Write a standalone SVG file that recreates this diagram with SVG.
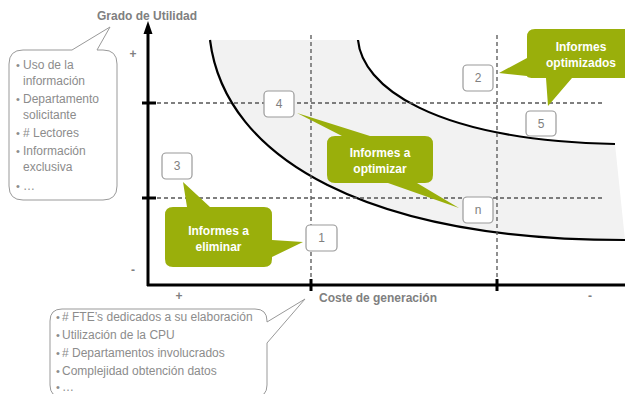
<svg xmlns="http://www.w3.org/2000/svg" width="625" height="394" viewBox="0 0 625 394">
<style>
.dash{stroke:#555;stroke-width:1.3;stroke-dasharray:4 3;fill:none}
.curve{stroke:#000;stroke-width:2.2;fill:none}
.axis{stroke:#000;stroke-width:3;fill:none}
.lbl{font-family:"Liberation Sans",Arial,sans-serif;font-size:12px;font-weight:bold;fill:#808080}
.bub{fill:#fff;stroke:#999;stroke-width:1}
.btxt{font-family:"Liberation Sans",Arial,sans-serif;font-size:12px;fill:#8c8c8c}
.bul{font-family:"Liberation Sans",Arial,sans-serif;font-size:11px;fill:#8c8c8c}
.num rect{fill:#fff;stroke:#9a9a9a;stroke-width:1.2}
.num text{font-family:"Liberation Sans",Arial,sans-serif;font-size:12px;fill:#808080;text-anchor:middle}
.call path{fill:#9aaf0b}
.call text{font-family:"Liberation Sans",Arial,sans-serif;font-size:12px;font-weight:bold;fill:#fff;text-anchor:middle}
</style>
<rect width="625" height="394" fill="#fff"/>
<g id="band">
<path d="M210,40 L358,40 C362,85 430,140 615,144 L625,240 C370,240 225,160 210,40 Z" fill="#f2f2f2"/>
<path class="curve" d="M210,40 C225,160 370,240 625,240"/>
<path class="curve" d="M358,40 C362,85 430,140 615,144"/>
</g>
<g id="connectors">
<line class="dash" x1="311" y1="35" x2="311" y2="284"/>
<line class="dash" x1="497" y1="35" x2="497" y2="284"/>
<line class="dash" x1="150" y1="103" x2="602" y2="103"/>
<line class="dash" x1="150" y1="198" x2="602" y2="198"/>
</g>
<g id="axes">
<line class="axis" x1="148" y1="286" x2="148" y2="30"/>
<polygon points="148,21 143.5,34 152.5,34" fill="#000"/>
<line class="axis" x1="147" y1="285" x2="625" y2="285"/>
<line x1="142" y1="103" x2="156" y2="103" stroke="#000" stroke-width="3"/>
<line x1="142" y1="198" x2="156" y2="198" stroke="#000" stroke-width="3"/>
<line x1="311" y1="279" x2="311" y2="291" stroke="#000" stroke-width="3"/>
<line x1="497" y1="279" x2="497" y2="291" stroke="#000" stroke-width="3"/>
<text class="lbl" x="97" y="20">Grado de Utilidad</text>
<text class="lbl" x="319" y="302">Coste de generación</text>
<text class="lbl" x="133" y="58" text-anchor="middle">+</text>
<text class="lbl" x="133" y="274" text-anchor="middle">-</text>
<text class="lbl" x="179" y="300" text-anchor="middle">+</text>
<text class="lbl" x="590" y="300" text-anchor="middle">-</text>
</g>
<g id="bubble-utilidad">
<path class="bub" d="M23,50 L72,50 L110,27 L97,50 L103,50 Q117,50 117,64 L117,186 Q117,200 103,200 L23,200 Q9,200 9,186 L9,64 Q9,50 23,50 Z"/>
<text class="bul" x="16" y="69">•</text><text class="btxt" x="23" y="69">Uso de la</text>
<text class="btxt" x="23" y="85">información</text>
<text class="bul" x="16" y="103">•</text><text class="btxt" x="23" y="103">Departamento</text>
<text class="btxt" x="23" y="119">solicitante</text>
<text class="bul" x="16" y="137">•</text><text class="btxt" x="23" y="137"># Lectores</text>
<text class="bul" x="16" y="155">•</text><text class="btxt" x="23" y="155">Información</text>
<text class="btxt" x="23" y="171">exclusiva</text>
<text class="bul" x="16" y="190">•</text><text class="btxt" x="23" y="190">…</text>
</g>
<g id="bubble-coste">
<path class="bub" d="M62,309 L255,309 Q267,309 267,321 L267,322 L305,299 L267,343 L267,385 Q267,397 255,397 L62,397 Q50,397 50,385 L50,321 Q50,309 62,309 Z"/>
<text class="bul" x="56" y="321">•</text><text class="btxt" x="62" y="321"># FTE’s dedicados a su elaboración</text>
<text class="bul" x="56" y="339">•</text><text class="btxt" x="62" y="339">Utilización de la CPU</text>
<text class="bul" x="56" y="357">•</text><text class="btxt" x="62" y="357"># Departamentos involucrados</text>
<text class="bul" x="56" y="375">•</text><text class="btxt" x="62" y="375">Complejidad obtención datos</text>
<text class="bul" x="56" y="391">•</text><text class="btxt" x="62" y="391">…</text>
</g>
<g id="n4" class="num"><rect x="264" y="91" width="30" height="26" rx="4"/><text x="279" y="108">4</text></g>
<g id="n2" class="num"><rect x="463" y="65" width="30" height="26" rx="4"/><text x="478" y="82">2</text></g>
<g id="n5" class="num"><rect x="526" y="111" width="30" height="25" rx="4"/><text x="541" y="128">5</text></g>
<g id="n3" class="num"><rect x="162" y="153" width="30" height="26" rx="4"/><text x="177" y="170">3</text></g>
<g id="n1" class="num"><rect x="306" y="225" width="31" height="26" rx="4"/><text x="321.5" y="242">1</text></g>
<g id="nn" class="num"><rect x="463" y="197" width="30" height="26" rx="4"/><text x="478" y="214">n</text></g>
<g id="c-eliminar" class="call">
<path d="M173,207 L187,207 L183,182 L210,207 L264,207 Q272,207 272,215 L272,240 L303,242 L272,257 L272,259 Q272,267 264,267 L173,267 Q165,267 165,259 L165,215 Q165,207 173,207 Z"/>
<text x="218.5" y="235">Informes a</text>
<text x="218.5" y="251">eliminar</text>
</g>
<g id="c-optimizar" class="call">
<path d="M335,136 L342,136 L297,113 L370,136 L425,136 Q433,136 433,144 L433,175 Q433,183 425,183 L417,183 L459,208 L388,183 L335,183 Q327,183 327,175 L327,144 Q327,136 335,136 Z"/>
<text x="380" y="157">Informes a</text>
<text x="380" y="173">optimizar</text>
</g>
<g id="c-optimizados" class="call">
<path d="M535,29 L630,29 L630,78 L572,78 L548,106 L546,78 L535,78 Q527,78 527,76 L499,73 L527,58 L527,37 Q527,29 535,29 Z"/>
<text x="581" y="51">Informes</text>
<text x="581" y="67">optimizados</text>
</g>
</svg>
